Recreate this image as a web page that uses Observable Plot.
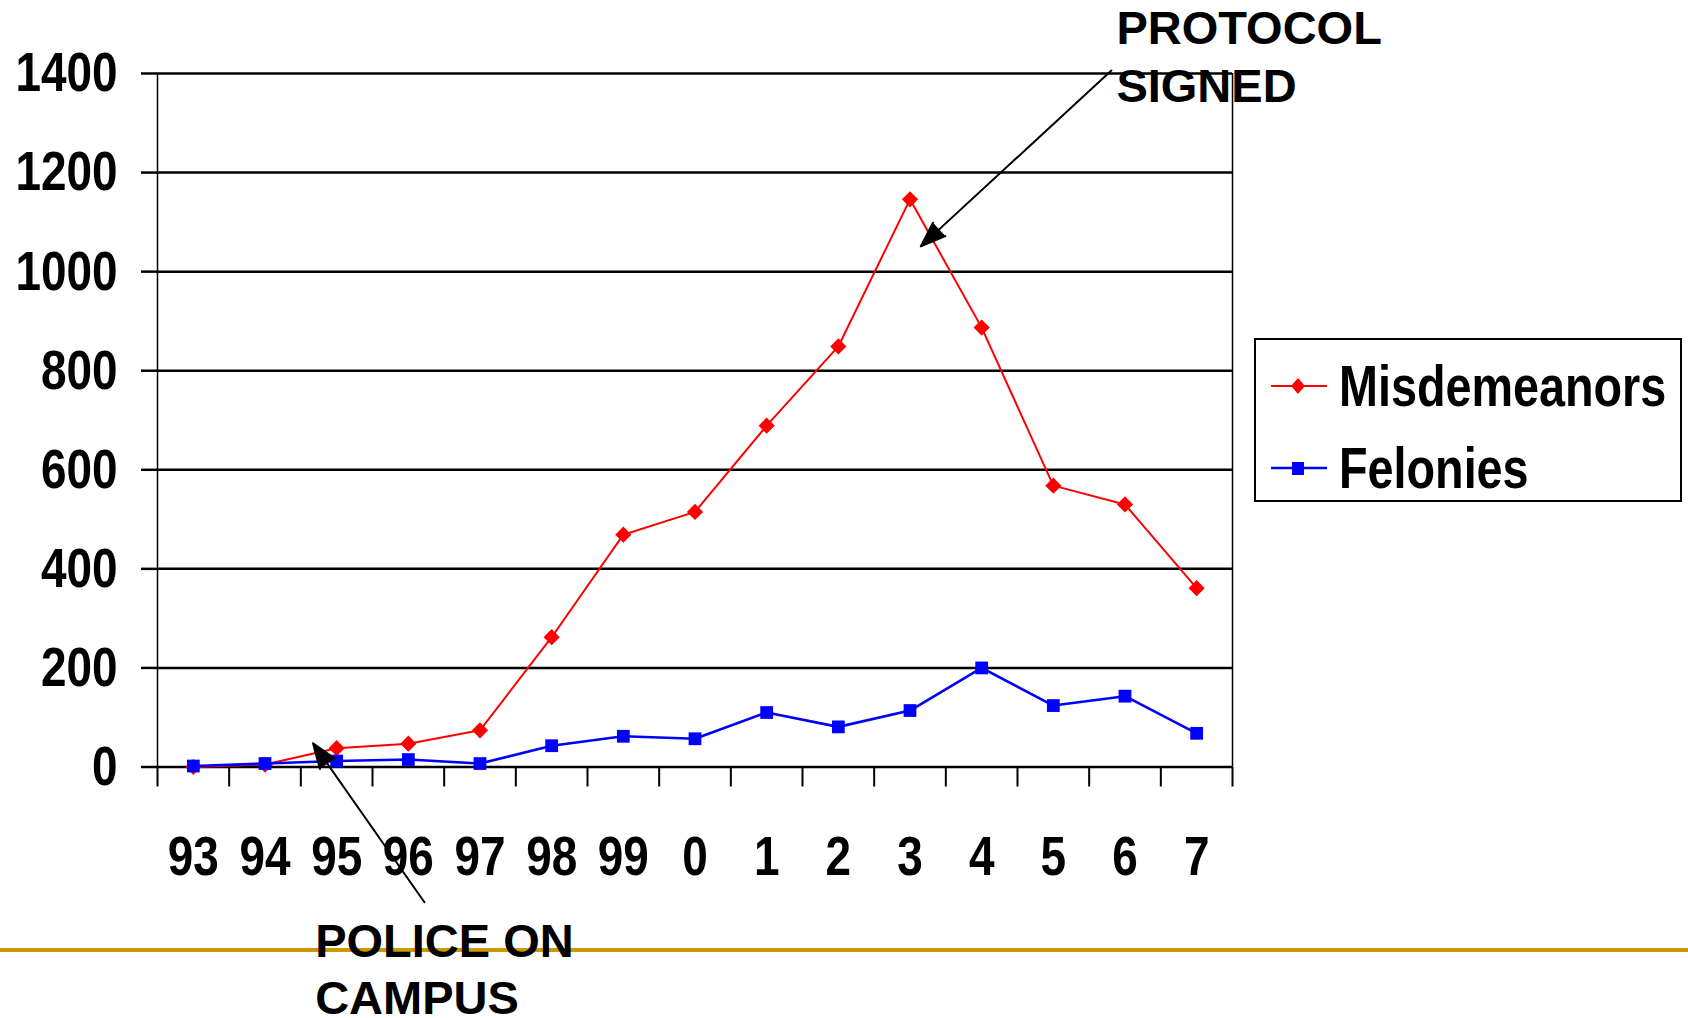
<!DOCTYPE html>
<html>
<head>
<meta charset="utf-8">
<script src="https://cdn.jsdelivr.net/npm/d3@7"></script>
<script src="https://cdn.jsdelivr.net/npm/@observablehq/plot@0.6"></script>
<style>
  html, body { margin: 0; padding: 0; background: #fff; }
  #wrap { position: relative; width: 1688px; height: 1018px; overflow: hidden; background: #fff; }
  #gold { position: absolute; left: 0; top: 948px; width: 1688px; height: 4px; background: #CC9900; z-index: 0; }
  #chart { position: absolute; left: 0; top: 0; z-index: 1; }
  #legend {
    position: absolute; left: 1254px; top: 338px; width: 424px; height: 160px;
    border: 2px solid #000; background: #fff; z-index: 2;
    font-family: "Liberation Sans", Arial, sans-serif;
    font-weight: bold; font-size: 57px; color: #000;
  }
  .entry { position: absolute; left: 13px; height: 60px; display: flex; align-items: center; white-space: nowrap; }
  .entry svg { display: block; margin-right: 12px; flex: none; }
  .entry span { display: inline-block; transform: scaleX(0.82); transform-origin: 0 50%; }
</style>
</head>
<body>
<div id="wrap">
  <div id="gold"></div>
  <div id="chart"></div>
  <div id="legend">
    <div class="entry" style="top:16px"><svg width="58" height="30"><line x1="2" y1="15" x2="58" y2="15" stroke="#FF0000" stroke-width="2"/><path d="M29,7 L36,15 L29,23 L22,15 Z" fill="#FF0000"/></svg><span>Misdemeanors</span></div>
    <div class="entry" style="top:98px"><svg width="58" height="30"><line x1="2" y1="15" x2="58" y2="15" stroke="#0000FF" stroke-width="2.5"/><rect x="23" y="9" width="12" height="13" fill="#0000FF"/></svg><span>Felonies</span></div>
  </div>
</div>
<script>
// ---- data ----
const years = ["93", "94", "95", "96", "97", "98", "99", "0", "1", "2", "3", "4", "5", "6", "7"];
const misdemeanors = [0, 5, 38, 47, 74, 262, 469, 515, 689, 849, 1146, 887, 568, 530, 361];
const felonies = [2, 7, 12, 15, 7, 43, 62, 57, 110, 81, 114, 200, 124, 143, 68];
const yTicks = [0, 200, 400, 600, 800, 1000, 1200, 1400];

// annotations (data coordinates: x = year index, y = count)
const annotationLines = [
  {text: "PROTOCOL", x: 12.88, y: 1489},
  {text: "SIGNED", x: 12.88, y: 1372},
  {text: "POLICE ON", x: 1.70, y: -354},
  {text: "CAMPUS", x: 1.70, y: -469}
];
const arrows = [
  {x1: 12.81, y1: 1406, x2: 10.15, y2: 1051},
  {x1: 3.225, y1: -273, x2: 1.67, y2: 48}
];

const FONT = '"Liberation Sans", Arial, sans-serif';

const idx = years.map((d, i) => i);
const bounds = d3.range(-0.5, years.length, 1);
const mis = years.map((y, i) => ({i, v: misdemeanors[i]}));
const fel = years.map((y, i) => ({i, v: felonies[i]}));

const chart = Plot.plot({
  width: 1688,
  height: 1018,
  marginLeft: 157,
  marginRight: 456,
  marginTop: 73,
  marginBottom: 251.5,
  style: {background: "transparent", fontFamily: FONT, color: "#000", overflow: "visible"},
  x: {domain: [-0.5, years.length - 0.5], axis: null},
  y: {domain: [0, 1400], axis: null},
  marks: [
    Plot.ruleY(yTicks, {y: d => d, x1: -0.5, x2: years.length - 0.5, stroke: "#000", strokeWidth: 2.5}),
    Plot.axisY(yTicks, {tickSize: 16, tickPadding: 24, strokeWidth: 2.5, fontSize: 56, fontWeight: "bold", tickFormat: d => String(d), className: "narrow"}),
    Plot.ruleX([-0.5, years.length - 0.5], {x: d => d, y1: 0, y2: 1400, stroke: "#000", strokeWidth: 1.5}),
    Plot.axisX(bounds, {tickSize: 20, strokeWidth: 2, tickFormat: () => ""}),
    Plot.axisX(idx, {tickSize: 0, tickPadding: 68, fontSize: 56, fontWeight: "bold", tickFormat: i => years[i], className: "narrow"}),
    Plot.lineY(mis, {x: "i", y: "v", stroke: "#FF0000", strokeWidth: 2}),
    Plot.dot(mis, {x: "i", y: "v", symbol: "diamond2", r: 7.3, fill: "#FF0000", stroke: null}),
    Plot.lineY(fel, {x: "i", y: "v", stroke: "#0000FF", strokeWidth: 2.6}),
    Plot.dot(fel, {x: "i", y: "v", symbol: "square", r: 7.2, fill: "#0000FF", stroke: null}),
    Plot.arrow(arrows, {x1: "x1", y1: "y1", x2: "x2", y2: "y2", stroke: "#000", fill: "#000", strokeWidth: 2, headLength: 20, headAngle: 40, clip: false}),
    Plot.text(annotationLines, {x: "x", y: "y", text: "text", textAnchor: "start", fontSize: 47, fontWeight: "bold", fill: "#000", clip: false})
  ]
});
document.getElementById("chart").appendChild(chart);

// Arial Narrow look: compress axis labels horizontally around their anchor points
chart.querySelectorAll("g[aria-label$='tick label'] text").forEach(t => {
  const tr = t.getAttribute("transform") || "";
  t.setAttribute("transform", `${tr} scale(0.82,1)`);
});
</script>
</body>
</html>
